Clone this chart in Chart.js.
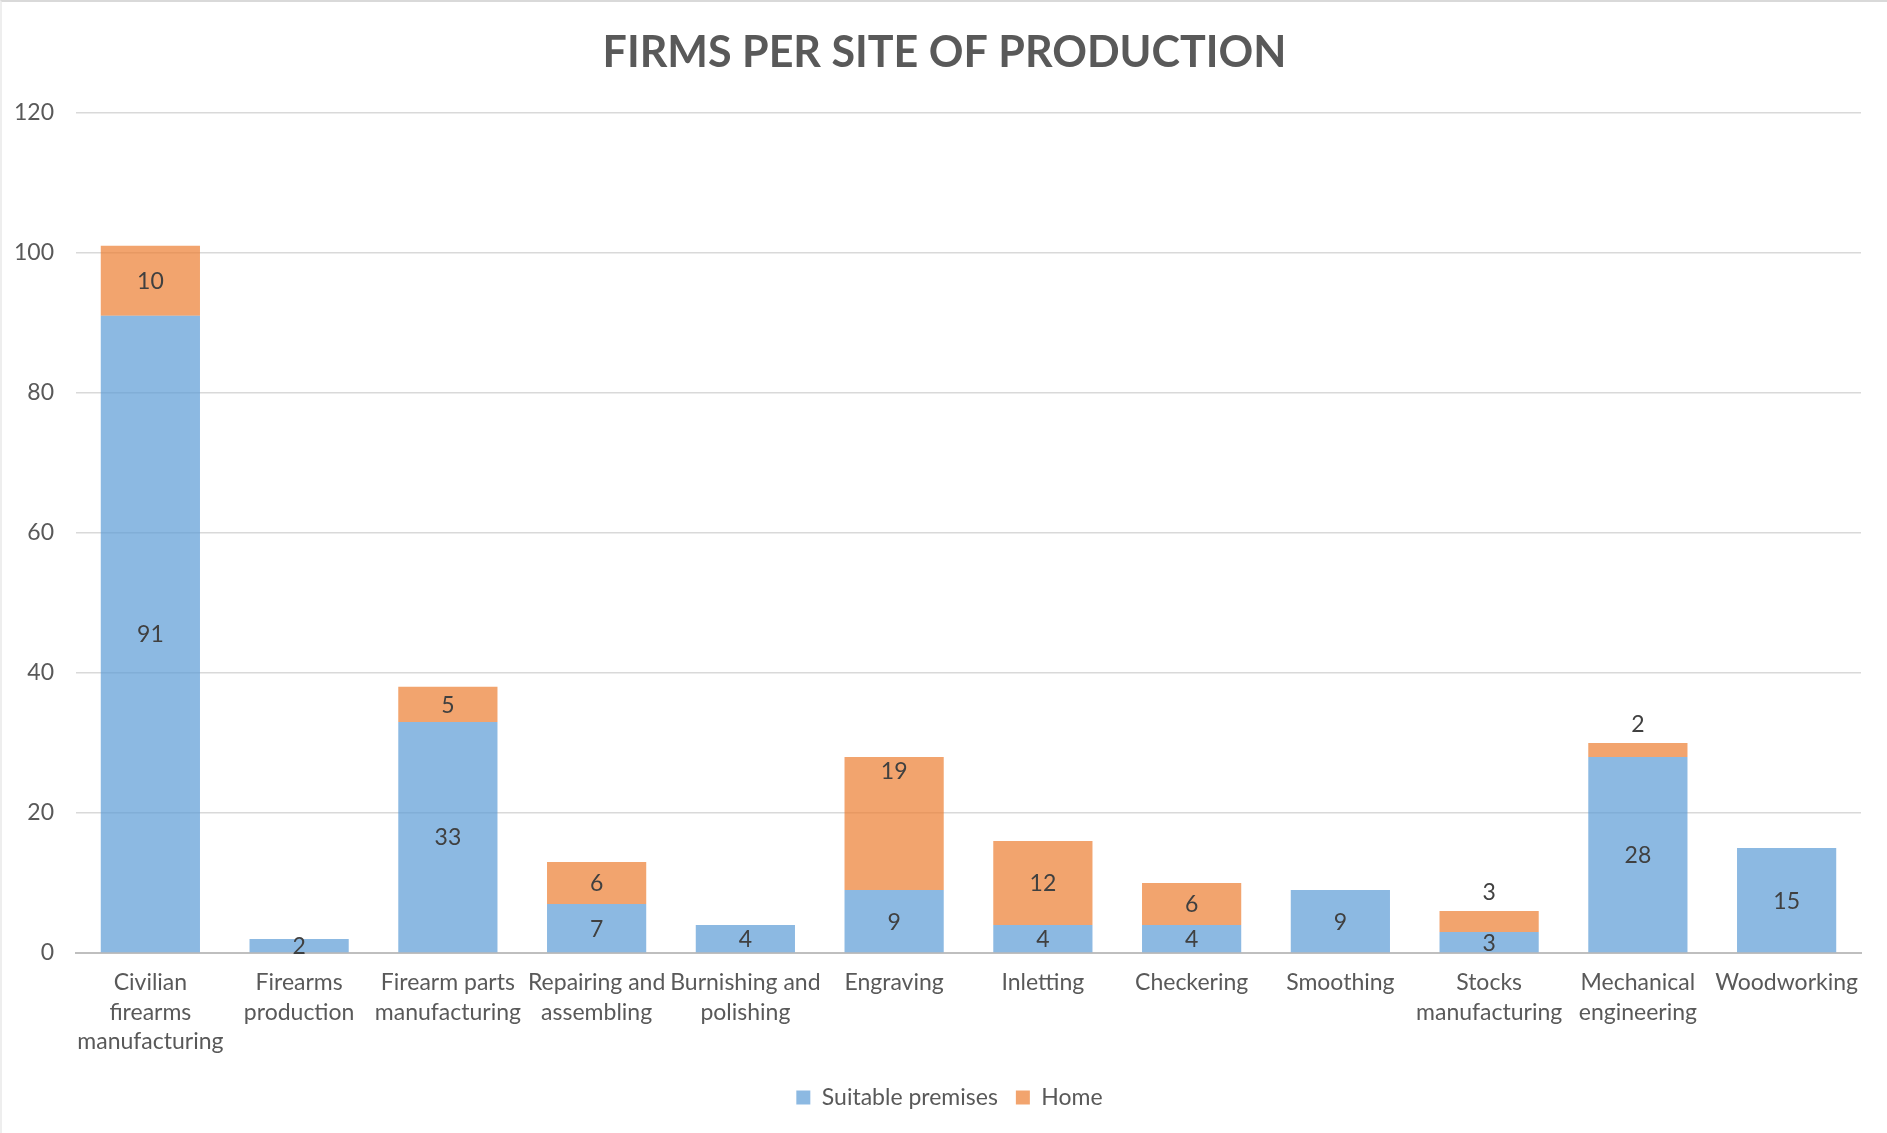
<!DOCTYPE html>
<html>
<head>
<meta charset="utf-8">
<script src="https://cdn.jsdelivr.net/npm/chart.js@4.4.1/dist/chart.umd.min.js"></script>
<style>
  html, body { margin: 0; padding: 0; background: #fff; }
  #wrap {
    width: 1887px; height: 1133px; box-sizing: border-box;
    border-top: 2px solid #d9d9d9; border-left: 2px solid #eeeeee;
  }
</style>
</head>
<body>
<div id="wrap"><canvas id="chart"></canvas></div>
<script>
const categories = [
  ["Civilian", "firearms", "manufacturing"],
  ["Firearms", "production"],
  ["Firearm parts", "manufacturing"],
  ["Repairing and", "assembling"],
  ["Burnishing and", "polishing"],
  "Engraving",
  "Inletting",
  "Checkering",
  "Smoothing",
  ["Stocks", "manufacturing"],
  ["Mechanical", "engineering"],
  "Woodworking"
];
const suitablePremises = [91, 2, 33, 7, 4, 9, 4, 4, 9, 3, 28, 15];
const home = [10, null, 5, 6, null, 19, 12, 6, null, 3, 2, null];
const yTicks = [0, 20, 40, 60, 80, 100, 120];

const FONT = "Lato, 'Open Sans', sans-serif";

// value labels: centred in each segment, small top segments get put above the bar
const valueLabels = {
  id: "valueLabels",
  afterDatasetsDraw(chart, args, opts) {
    const ctx = chart.ctx;
    const topInside = opts.topInside || [];
    ctx.save();
    ctx.font = "23px " + FONT;
    ctx.fillStyle = "#404040";
    ctx.textAlign = "center";
    ctx.textBaseline = "middle";
    chart.data.datasets.forEach((ds, di) => {
      const meta = chart.getDatasetMeta(di);
      const isTop = di === chart.data.datasets.length - 1;
      meta.data.forEach((bar, i) => {
        const v = ds.data[i];
        if (v == null || v === 0) return;
        const h = bar.base - bar.y;
        let y = bar.y + h / 2;
        if (isTop && h < 25) y = bar.y - 19;
        else if (isTop && topInside.includes(i)) y = bar.y + 14;
        ctx.fillText(String(v), bar.x, y + 1);
      });
    });
    ctx.restore();
  }
};

// title and legend are centred on the whole canvas, not on the padded box
const centerOnCanvas = {
  id: "centerOnCanvas",
  afterLayout(chart) {
    if (chart.titleBlock) { chart.titleBlock.left = 0; chart.titleBlock.right = chart.width; }
    if (chart.legend) { chart.legend.left = 10; chart.legend.right = chart.width; }
  }
};

new Chart(document.getElementById("chart"), {
  type: "bar",
  data: {
    labels: categories,
    datasets: [{
      label: "Suitable premises",
      data: suitablePremises,
      backgroundColor: "rgba(91,155,213,0.7)",
      categoryPercentage: 1,
      barPercentage: 0.667
    }, {
      label: "Home",
      data: home,
      backgroundColor: "rgba(237,125,49,0.7)",
      categoryPercentage: 1,
      barPercentage: 0.667
    }]
  },
  options: {
    responsive: true,
    maintainAspectRatio: false,
    animation: false,
    layout: { padding: { left: 0, right: 26, top: 0, bottom: 14 } },
    plugins: {
      title: {
        display: true,
        text: "FIRMS PER SITE OF PRODUCTION",
        color: "#595959",
        font: { family: FONT, size: 43, weight: "bold", lineHeight: 1.2 },
        padding: { top: 25, bottom: 34 }
      },
      legend: {
        position: "bottom",
        labels: {
          color: "#595959",
          font: { family: FONT, size: 23 },
          boxWidth: 14,
          boxHeight: 14,
          padding: 18
        }
      },
      tooltip: { enabled: false },
      valueLabels: { topInside: [5] } // Engraving label sits near the top of its segment
    },
    scales: {
      x: {
        stacked: true,
        afterFit(axis) { axis.height = 115; },
        grid: { display: false, drawTicks: false },
        border: { color: "#bfbfbf", width: 2 },
        ticks: {
          color: "#595959",
          font: { family: FONT, size: 23, lineHeight: 1.28 },
          padding: 15,
          maxRotation: 0,
          autoSkip: false
        }
      },
      y: {
        stacked: true,
        min: 0,
        max: 120,
        afterBuildTicks(axis) { axis.ticks = yTicks.map(v => ({ value: v })); },
        afterFit(axis) { axis.width = 74; },
        grid: { color: "#d9d9d9", lineWidth: 1.5, drawTicks: false },
        border: { display: false },
        ticks: {
          color: "#595959",
          font: { family: FONT, size: 23 },
          padding: 22
        }
      }
    }
  },
  plugins: [valueLabels, centerOnCanvas]
});
</script>
</body>
</html>
